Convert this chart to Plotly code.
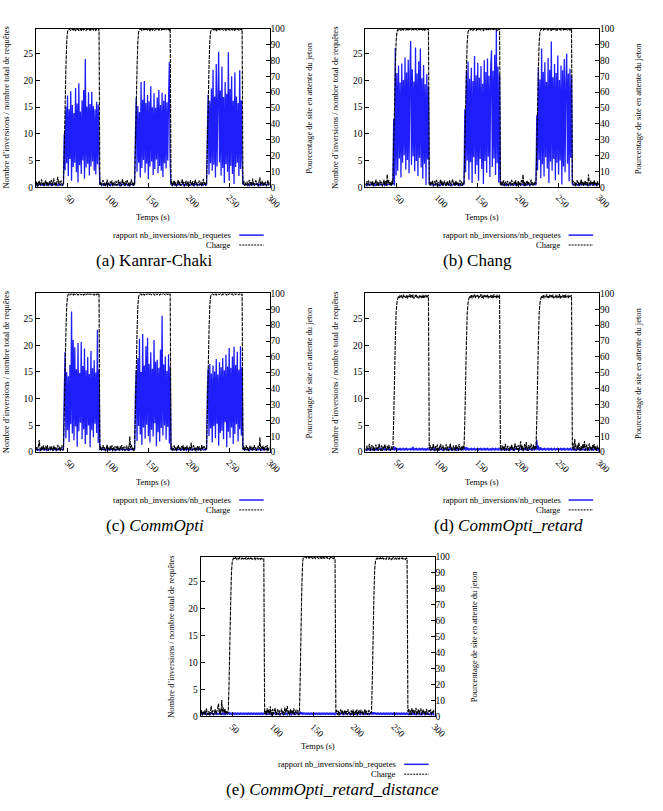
import plotly.graph_objects as go

# ---------------- data ----------------
TIME = list(range(11, 301))            # seconds, 1 sample per second
X_RANGE = [11, 300]
X_TICKS = [50, 100, 150, 200, 250, 300]
Y_LEFT_TICKS = [0, 5, 10, 15, 20, 25]
Y_LEFT_RANGE = [0, 29.7]
Y_RIGHT_TICKS = [0, 10, 20, 30, 40, 50, 60, 70, 80, 90, 100]
Y_RIGHT_RANGE = [0, 100]

LEFT_TITLE = "Nombre d’inversions / nombre total de requêtes"
RIGHT_TITLE = "Pourcentage de site en attente du jeton"
X_TITLE = "Temps (s)"
SERIES_NAMES = ["rapport nb_inversions/nb_requetes", "Charge"]
CAPTIONS = ["(a) Kanrar-Chaki", "(b) Chang", "(c) <i>CommOpti</i>",
            "(d) <i>CommOpti_retard</i>", "(e) <i>CommOpti_retard_distance</i>"]

ratio_a = [
    0.5,0.3,0.6,0.4,0.5,0.7,0.3,0.5,0.4,0.6,
    0.4,0.6,0.5,0.3,0.7,0.5,0.4,0.6,0.5,0.3,
    0.6,0.4,0.5,0.7,0.4,0.5,0.6,0.3,0.5,0.4,
    0.5,0.6,0.4,0.5,0.6,10.0,3.2,15.1,4.5,17.2,
    2.1,14.6,5.3,18.0,1.2,15.4,3.8,13.9,4.6,18.6,
    2.8,15.7,0.9,19.5,4.1,14.2,2.5,16.3,5.0,18.2,
    1.6,24.0,3.7,15.1,4.4,17.8,2.2,15.6,3.9,17.9,
    4.8,15.2,3.1,14.6,2.4,16.0,4.3,15.5,5.2,0.6,
    0.5,0.4,0.6,0.5,0.3,0.6,0.4,0.5,0.7,0.4,
    0.5,0.6,0.3,0.5,0.4,0.6,0.5,0.4,0.6,0.5,
    0.4,0.5,0.6,0.3,0.5,0.7,0.4,0.5,0.6,0.4,
    0.5,0.4,0.6,0.5,0.3,0.5,0.6,0.4,0.5,0.6,
    0.4,0.5,0.6,9.5,16.8,2.9,15.2,4.6,14.1,1.8,
    19.7,3.6,16.4,5.1,19.9,2.7,15.8,4.4,17.3,1.5,
    16.1,3.9,18.9,4.8,15.0,2.3,17.6,3.4,14.9,5.2,
    16.8,2.6,18.2,4.0,15.4,3.1,17.7,1.9,16.2,4.5,
    17.4,3.5,15.9,5.0,16.6,23.4,4.2,0.6,0.4,0.5,
    0.5,0.6,0.4,0.5,0.3,0.6,0.5,0.4,0.6,0.5,
    0.4,0.6,0.5,0.3,0.5,0.6,0.4,0.5,0.7,0.4,
    0.5,0.4,0.6,0.5,0.4,0.6,0.3,0.5,0.6,0.4,
    0.6,0.5,0.4,0.5,0.6,0.3,0.5,0.4,0.6,0.5,
    0.4,0.5,9.8,17.3,2.4,16.2,4.5,18.5,3.1,22.0,
    4.2,17.0,1.8,23.1,3.9,16.4,25.4,4.7,18.1,2.2,
    22.6,3.6,16.9,0.8,19.7,4.3,17.5,2.9,25.3,1.2,
    18.4,4.0,20.8,2.5,16.2,0.6,21.5,3.8,17.0,4.6,
    15.8,2.1,21.9,3.4,16.3,4.9,0.5,0.6,0.4,0.5,
    0.5,0.4,0.6,0.5,0.3,0.6,0.5,0.4,0.6,0.5,
    0.4,0.6,0.5,0.7,0.4,0.5,0.6,0.3,0.5,0.4,
    0.6,0.5,0.4,0.5,0.6,0.4,0.5,0.6,0.5,0.4,
]
charge_a = [
    1.2,3.5,0.4,2.8,4.1,0.9,2.2,5.0,1.5,3.1,
    0.6,2.7,4.4,1.1,3.3,0.5,2.5,3.9,1.8,4.6,
    0.8,3.2,5.6,1.4,2.9,0.7,4.0,6.5,2.0,3.6,
    1.0,4.3,2.4,0.9,2.0,25,50,75,92,98,
    99.2,100,99.5,98.8,100,99.6,99.1,100,99.4,98.9,
    100,99.3,99.8,98.7,100,99.5,99.0,100,99.6,99.2,
    99.8,100,98.9,99.5,100,99.3,99.7,98.8,100,99.4,
    99.9,99.2,100,99.5,98.9,100,99.6,99.1,100,1.5,
    3.4,0.7,2.6,4.5,1.3,3.0,0.5,2.2,4.8,1.6,
    2.9,0.8,3.7,1.9,4.2,0.6,2.4,3.3,1.1,4.0,
    0.9,2.6,4.7,1.4,3.5,0.5,2.1,5.2,1.7,3.0,
    0.7,3.8,2.3,4.4,1.2,3.1,0.6,2.7,4.9,1.5,
    3.3,0.8,2.0,25,50,75,92,98,99.3,100,
    99.5,98.9,100,99.4,99.8,99.0,100,99.6,99.2,100,
    99.4,98.8,100,99.6,99.1,100,99.5,99.0,99.8,100,
    99.3,99.7,98.9,100,99.5,99.2,100,99.6,98.9,99.8,
    100,99.4,99.1,100,99.6,99.0,99.9,1.8,3.9,0.7,
    2.5,4.3,1.1,3.2,0.6,2.8,4.6,1.4,3.6,0.9,
    2.2,5.1,1.6,3.4,0.5,2.9,4.1,1.0,3.7,2.0,
    0.8,4.4,2.6,1.2,3.9,0.6,2.3,4.8,1.5,3.1,
    0.7,2.7,4.2,1.3,3.5,0.9,2.4,5.3,1.7,3.0,
    1.1,2.0,25,50,75,92,98,99.4,100,99.6,
    99.1,100,99.5,98.8,99.9,99.3,100,99.6,99.0,99.8,
    100,99.4,99.1,100,99.6,98.9,99.8,100,99.3,99.7,
    99.0,100,99.5,99.2,100,99.6,98.8,99.9,99.4,100,
    99.5,99.1,100,99.7,99.2,99.9,2.1,4.0,0.8,2.9,
    1.4,3.6,0.6,2.5,4.7,1.2,3.3,0.9,5.5,2.0,
    0.7,3.1,4.4,1.6,2.7,0.5,3.8,6.2,1.3,2.4,
    4.1,0.9,2.8,1.5,3.6,0.6,2.2,4.5,1.1,3.0,
]

ratio_b = [
    0.4,0.6,0.5,0.3,0.6,0.5,0.4,0.7,0.5,0.4,
    0.6,0.5,0.3,0.5,0.6,0.4,0.5,0.6,0.4,0.5,
    0.5,0.4,0.6,0.5,0.3,0.6,0.5,0.4,0.6,0.5,
    0.5,0.6,0.4,0.5,0.6,12.8,0.3,26.1,2.2,21.4,
    3.1,22.8,5.4,19.6,1.8,23.2,4.6,20.1,6.0,24.3,
    3.3,21.5,5.1,23.9,2.6,20.7,27.4,4.2,22.1,5.8,
    19.8,3.0,26.2,4.9,21.3,2.1,23.6,5.5,26.0,3.7,
    20.4,1.6,22.9,4.4,19.3,0.4,21.2,5.2,18.9,0.5,
    0.6,0.4,0.5,0.6,0.3,0.5,0.4,0.6,0.5,0.4,
    0.5,0.6,0.4,0.3,0.6,0.5,0.4,0.5,0.6,0.5,
    0.4,0.5,0.6,0.4,0.5,0.3,0.6,0.5,0.4,0.6,
    0.5,0.4,0.5,0.6,0.4,0.5,0.6,0.3,0.5,0.4,
    0.4,0.6,0.5,14.6,2.8,21.7,5.0,23.5,1.4,20.3,
    4.7,22.4,0.8,19.9,5.6,24.6,2.5,21.0,4.1,23.3,
    1.2,20.5,5.3,22.7,3.4,19.4,0.6,23.8,4.9,21.6,
    2.7,24.1,5.7,20.9,1.9,22.3,25.6,3.8,21.8,5.4,
    24.8,2.3,29.5,4.5,22.6,0.9,21.1,0.5,0.6,0.4,
    0.5,0.4,0.6,0.5,0.3,0.6,0.4,0.5,0.6,0.5,
    0.4,0.5,0.6,0.4,0.5,0.7,0.3,0.5,0.4,0.6,
    0.5,0.6,0.4,0.5,0.6,0.4,0.5,0.3,0.6,0.5,
    0.4,0.5,0.6,0.5,0.4,0.6,0.5,0.4,0.5,0.6,
    0.5,0.4,13.5,3.2,22.5,5.1,20.2,1.7,26.0,4.3,
    21.6,2.0,23.4,5.6,19.7,3.5,24.2,0.8,22.0,4.8,
    27.3,3.1,20.6,5.3,23.1,1.3,21.4,4.6,24.7,2.4,
    20.1,5.0,22.8,0.5,21.9,3.9,24.0,2.8,19.6,25.0,
    4.4,21.3,1.1,22.2,5.5,21.0,0.6,0.4,0.5,0.6,
    0.5,0.6,0.4,0.5,0.3,0.6,0.5,0.4,0.6,0.5,
    0.4,0.5,0.6,0.4,0.5,0.6,0.3,0.5,0.4,0.6,
    0.5,0.4,0.6,0.5,0.4,0.5,0.6,0.4,0.5,0.6,
]
charge_b = [
    2.3,0.7,3.9,1.5,4.4,0.9,2.6,3.5,1.2,4.0,
    0.5,3.1,2.2,4.8,1.0,3.6,0.8,2.9,4.3,1.7,
    3.4,0.6,2.5,4.6,1.3,3.8,0.9,8.2,2.1,4.5,
    1.6,3.0,0.8,4.1,2.0,25,50,75,92,98,
    99.6,99.0,100,99.3,98.9,100,99.5,99.2,100,99.7,
    99.1,100,99.4,98.8,99.9,99.5,100,99.2,99.6,100,
    99.3,98.9,100,99.6,99.1,100,99.4,99.8,98.9,100,
    99.5,99.2,100,99.0,99.7,100,99.3,99.6,100,2.4,
    0.8,3.5,1.9,4.2,0.6,2.7,3.9,1.1,4.6,2.0,
    3.2,0.5,2.4,4.9,1.4,3.7,0.9,2.8,4.1,1.6,
    0.7,3.9,2.2,1.0,4.5,2.6,0.6,3.4,5.0,1.8,
    2.9,0.9,4.3,1.5,3.1,0.7,2.5,4.7,1.2,3.6,
    0.8,2.4,2.0,25,50,75,92,98,99.4,100,
    99.2,99.7,100,99.0,99.5,100,99.3,98.9,100,99.6,
    99.1,100,99.5,99.2,99.8,100,98.9,99.4,100,99.6,
    99.3,100,99.0,99.7,100,99.4,99.1,100,99.5,99.8,
    99.2,100,99.6,98.9,100,99.4,99.9,2.6,0.9,3.8,
    1.5,4.4,0.7,2.9,3.6,1.2,4.1,0.6,2.3,3.3,
    1.0,4.6,2.1,0.8,3.5,1.9,4.3,0.5,2.7,3.9,
    1.3,3.0,0.9,4.5,2.4,8.0,1.1,3.6,0.7,2.8,
    4.2,1.6,3.3,0.6,2.5,4.8,1.4,3.1,0.9,2.2,
    3.7,2.0,25,50,75,92,98,99.3,100,99.6,
    99.0,100,99.5,99.2,99.8,100,99.1,99.6,100,99.3,
    98.9,100,99.5,99.7,100,99.2,99.6,98.8,100,99.4,
    99.7,100,99.1,99.5,100,99.3,99.8,98.9,100,99.5,
    99.2,100,99.6,99.0,99.8,99.9,2.3,4.1,1.0,3.2,
    0.6,2.8,4.5,1.7,3.4,0.8,2.2,4.9,1.3,3.7,
    0.9,2.5,4.0,1.5,3.3,0.7,8.1,2.6,1.1,4.2,
    2.0,3.6,0.8,4.4,1.6,2.9,0.6,3.8,1.9,2.7,
]

ratio_c = [
    0.5,0.4,0.6,0.5,0.3,0.5,0.6,0.4,0.5,0.6,
    0.4,0.5,0.6,0.3,0.5,0.4,0.6,0.5,0.4,0.6,
    0.5,0.6,0.4,0.5,0.6,0.3,0.5,0.4,0.6,0.5,
    0.4,0.6,0.5,0.4,0.5,11.4,18.8,2.6,15.0,4.1,
    14.2,1.9,16.3,5.2,26.3,3.5,21.0,2.2,19.6,4.8,
    15.5,1.0,20.4,3.9,14.8,5.5,20.6,2.4,16.1,4.3,
    19.4,1.5,15.3,3.2,17.8,5.0,14.6,0.9,18.9,4.1,
    15.7,2.8,17.2,5.3,14.9,3.6,22.9,1.7,15.4,0.5,
    0.6,0.4,0.5,0.6,0.4,0.5,0.3,0.6,0.5,0.4,
    0.5,0.6,0.4,0.5,0.6,0.4,0.5,0.6,0.3,0.5,
    0.4,0.5,0.6,0.5,0.4,0.6,0.5,0.4,0.5,0.6,
    0.5,0.4,0.6,0.5,0.3,0.6,0.4,0.5,0.6,0.4,
    0.5,0.6,0.4,10.8,15.3,2.1,17.6,4.9,21.2,3.3,
    15.0,1.4,22.1,4.6,16.2,2.5,19.8,5.1,21.4,3.0,
    16.5,1.8,18.7,4.2,15.6,2.9,21.0,5.4,16.9,1.1,
    17.3,3.7,15.8,2.0,19.2,4.5,25.5,3.1,16.4,5.0,
    17.9,2.3,15.2,4.7,18.3,1.6,16.0,0.5,0.4,0.6,
    0.5,0.4,0.6,0.5,0.3,0.6,0.5,0.4,0.6,0.5,
    0.4,0.6,0.5,0.4,0.5,0.6,0.3,0.5,0.6,0.4,
    0.5,0.4,0.6,0.5,0.4,0.6,0.5,0.3,0.5,0.6,
    0.4,0.5,0.6,0.4,0.5,0.6,0.5,0.4,0.6,0.5,
    0.4,0.6,11.0,15.6,3.0,16.5,4.4,14.7,1.8,16.2,
    4.9,15.1,2.6,17.4,5.3,14.5,1.2,16.8,3.6,15.9,
    4.0,17.6,2.4,15.3,5.6,18.2,0.9,16.0,3.8,19.5,
    2.7,15.8,4.6,17.9,1.5,19.7,3.4,16.3,5.2,18.8,
    2.0,15.4,4.3,19.8,3.1,15.9,0.5,0.6,0.4,0.5,
    0.5,0.4,0.6,0.5,0.3,0.6,0.5,0.4,0.6,0.5,
    0.6,0.5,0.4,0.5,0.6,0.4,0.5,0.6,0.3,0.5,
    0.4,0.6,0.5,0.4,0.5,0.6,0.4,0.5,0.6,0.5,
]
charge_c = [
    1.5,3.2,0.8,4.0,7.6,2.1,0.6,3.5,1.9,4.3,
    0.9,2.6,3.9,1.2,4.5,0.7,2.4,3.3,1.0,3.8,
    2.2,0.5,4.1,1.6,3.0,0.8,2.7,4.6,1.3,3.5,
    0.6,2.9,4.2,1.1,2.0,25,50,75,92,98,
    99.4,100,99.1,99.7,100,99.3,98.9,100,99.5,99.2,
    100,99.6,99.0,99.8,100,99.4,99.1,100,99.6,98.9,
    99.5,100,99.2,99.7,100,99.0,99.6,100,99.3,99.8,
    100,99.4,98.9,100,99.6,99.2,100,99.5,99.9,1.2,
    3.6,0.8,2.5,4.4,1.4,3.1,0.6,2.2,4.7,1.7,
    2.8,0.9,3.9,1.5,4.3,0.5,2.6,3.4,1.0,3.8,
    1.3,4.0,2.1,0.7,3.6,1.8,4.5,0.9,2.9,3.3,
    0.6,2.4,4.1,1.2,3.5,0.8,10.0,2.3,4.6,1.4,
    3.0,0.7,2.0,25,50,75,92,98,99.2,100,
    99.6,99.1,100,99.4,98.9,100,99.7,99.3,100,99.5,
    99.0,100,99.6,99.2,99.8,100,99.4,98.9,100,99.6,
    99.3,100,99.7,99.0,100,99.5,99.2,99.8,100,99.4,
    99.1,100,99.6,99.3,100,99.5,99.9,1.6,3.7,0.6,
    2.4,4.2,1.1,3.3,0.8,2.7,4.5,1.5,3.0,0.7,
    3.8,1.9,4.4,0.6,2.6,3.6,1.2,4.1,2.0,0.9,
    3.4,1.4,6.0,0.8,2.8,4.3,1.6,3.2,0.5,2.5,
    4.0,1.0,3.5,2.2,0.7,4.6,1.8,2.9,3.7,1.1,
    2.6,2.0,25,50,75,92,98,99.3,100,99.5,
    99.1,100,99.6,99.0,99.8,100,99.4,99.2,100,99.6,
    99.0,100,99.5,99.3,100,99.7,98.9,100,99.4,99.8,
    100,99.2,99.6,100,99.0,99.5,100,99.3,99.7,100,
    99.4,99.1,100,99.6,99.2,99.9,1.9,3.8,0.7,2.6,
    4.3,1.3,3.1,0.6,2.4,4.0,1.5,3.5,0.9,2.7,
    4.4,1.2,3.0,0.8,2.3,3.9,1.6,9.4,0.7,3.4,
    1.8,4.1,0.9,2.8,3.6,1.1,4.5,0.6,2.2,3.1,
]

ratio_d = [
    0.5,0.3,0.7,0.4,0.6,0.3,0.8,0.5,0.4,0.6,
    0.3,0.7,0.5,0.4,0.8,0.3,0.6,0.5,0.7,0.4,
    0.6,0.3,0.7,0.5,0.4,0.8,0.3,0.6,0.5,0.4,
    0.7,0.3,0.5,0.6,0.4,1.1,0.3,0.9,0.4,0.8,
    0.3,0.7,0.4,0.8,0.3,0.6,0.5,0.8,0.3,0.7,
    0.4,0.8,0.3,0.6,0.5,0.7,0.3,0.8,0.4,1.0,
    0.3,0.7,0.5,0.8,0.3,0.6,0.4,0.8,0.3,0.7,
    0.5,0.8,0.3,0.6,0.4,0.7,0.3,0.8,0.5,0.4,
    0.6,0.3,0.7,0.5,0.4,0.8,0.3,0.6,0.5,0.4,
    0.7,0.3,0.6,0.5,0.8,0.4,0.3,0.7,0.5,0.6,
    0.4,0.7,0.3,0.6,0.5,0.8,0.4,0.3,0.6,0.5,
    0.7,0.4,0.5,0.3,0.8,0.6,0.4,0.5,0.7,0.3,
    0.6,0.4,0.5,1.0,0.3,0.9,0.4,0.8,0.3,0.7,
    0.4,0.8,0.3,0.7,0.5,0.8,0.3,0.6,0.4,0.8,
    0.3,0.7,0.5,0.8,0.3,0.6,0.4,0.8,0.3,0.7,
    0.5,0.8,0.3,0.6,0.4,0.7,0.3,0.8,0.5,0.7,
    0.3,0.8,0.4,0.6,0.3,0.8,0.5,0.4,0.6,0.3,
    0.7,0.5,0.4,0.8,0.3,0.6,0.5,0.4,0.7,0.3,
    0.6,0.5,0.8,0.4,0.3,0.7,0.5,0.6,0.4,0.8,
    0.3,0.6,0.5,0.7,0.4,0.3,0.8,0.5,0.6,0.4,
    0.7,0.3,0.5,0.6,0.4,0.8,0.3,0.5,0.7,0.4,
    0.6,0.5,2.3,0.4,1.2,0.3,0.9,0.4,0.8,0.3,
    0.7,0.4,0.8,0.3,0.6,0.5,0.8,0.3,0.7,0.4,
    0.8,0.3,0.6,0.5,0.8,0.3,0.7,0.4,0.8,0.3,
    0.6,0.5,0.8,0.3,0.7,0.4,0.8,0.3,0.6,0.5,
    0.8,0.3,0.7,0.4,0.8,0.3,0.5,0.6,0.4,0.7,
    0.3,0.5,0.6,0.4,0.8,0.3,0.5,0.7,0.4,0.6,
    0.5,0.3,0.7,0.4,0.6,0.5,0.8,0.3,0.5,0.6,
    0.4,0.7,0.3,0.5,0.6,0.4,0.8,0.5,0.3,0.6,
]
charge_d = [
    2.4,0.8,4.1,1.6,3.3,5.2,0.7,2.9,4.5,1.3,
    3.6,0.6,2.2,4.8,1.9,3.1,0.9,5.5,2.5,1.1,
    4.2,0.7,3.4,1.8,5.0,2.6,0.8,3.9,1.4,4.6,
    2.1,0.9,3.7,1.5,2.0,20,45,70,88,94,
    96.5,98.2,97.1,99.0,97.6,98.8,96.9,99.3,97.8,98.5,
    97.2,99.1,96.8,98.4,97.7,99.5,97.0,98.9,97.4,99.2,
    96.7,98.6,97.9,99.4,97.3,98.1,96.9,99.0,97.5,98.7,
    97.1,99.3,96.8,98.5,97.6,99.1,97.2,98.3,99.0,1.9,
    4.4,0.8,3.2,1.5,5.3,2.4,0.6,3.8,1.2,4.7,
    2.0,0.9,3.5,5.1,1.6,2.8,4.3,0.7,3.0,1.8,
    4.9,1.1,3.6,0.6,2.5,5.4,1.4,3.1,0.9,4.2,
    2.3,0.7,4.6,1.7,3.3,0.8,5.0,2.2,1.0,3.9,
    1.4,4.1,2.0,20,45,70,88,94,96.6,98.4,
    97.3,99.2,96.9,98.7,97.5,99.4,97.0,98.6,97.8,99.1,
    96.8,98.3,97.6,99.5,97.1,98.9,96.7,99.0,97.4,98.5,
    97.9,99.3,96.9,98.2,97.5,99.1,97.2,98.8,96.8,99.4,
    97.6,98.4,97.0,99.2,97.3,98.7,98.9,2.6,0.9,4.3,
    1.5,3.6,0.7,5.2,2.3,1.0,4.0,2.8,0.6,3.4,
    1.9,4.8,1.2,3.0,0.8,5.6,2.1,3.7,1.4,4.5,
    0.9,3.3,6.8,1.6,4.2,0.7,2.7,5.0,1.3,6.3,
    2.5,0.8,4.4,1.8,3.6,5.3,1.0,2.9,4.7,1.5,
    3.8,2.0,20,45,70,88,94,96.7,98.5,97.2,
    99.1,96.9,98.6,97.5,99.4,97.1,98.3,96.8,99.0,97.7,
    98.8,97.2,99.3,96.9,98.4,97.6,99.2,97.0,98.7,97.4,
    99.5,96.8,98.1,97.8,99.1,97.3,98.9,96.9,99.3,97.5,
    98.6,97.1,99.0,97.7,98.4,98.9,2.2,5.4,1.1,8.3,
    3.0,0.8,4.6,1.7,6.1,2.4,0.7,3.9,1.4,5.2,
    2.1,7.0,1.0,3.5,4.8,0.6,2.7,5.5,1.8,3.2,
    0.9,4.4,2.3,5.0,1.2,3.7,0.8,4.1,2.6,1.5,
]

ratio_e = [
    0.4,0.6,0.3,0.5,0.7,0.4,0.5,0.3,0.6,0.5,
    0.4,0.7,0.3,0.5,0.6,0.4,0.3,0.6,0.5,0.4,
    0.7,0.3,0.5,0.6,0.4,0.5,0.3,0.7,0.4,0.6,
    0.3,0.5,0.6,0.4,0.5,0.8,0.3,0.7,0.4,0.6,
    0.3,0.7,0.4,0.6,0.3,0.7,0.4,0.6,0.3,0.7,
    0.4,0.6,0.3,0.7,0.4,0.6,0.3,0.7,0.4,0.6,
    0.3,0.7,0.4,0.6,0.3,0.7,0.4,0.6,0.3,0.7,
    0.4,0.6,0.3,0.7,0.4,0.6,0.3,0.7,0.4,0.5,
    0.6,0.4,0.5,0.3,0.7,0.5,0.4,0.6,0.3,0.5,
    0.4,0.6,0.5,0.3,0.7,0.4,0.5,0.6,0.3,0.5,
    0.6,0.4,0.3,0.7,0.5,0.4,0.6,0.3,0.5,0.7,
    0.4,0.5,0.3,0.6,0.5,0.4,0.7,0.3,0.5,0.6,
    0.4,0.5,0.3,0.9,0.4,0.8,0.3,0.7,0.4,0.7,
    0.3,0.7,0.4,0.6,0.3,0.7,0.4,0.6,0.3,0.7,
    0.4,0.6,0.3,0.7,0.4,0.6,0.3,0.7,0.4,0.6,
    0.3,0.7,0.4,0.6,0.3,0.7,0.4,0.6,0.3,0.7,
    0.4,0.6,0.3,0.7,0.4,0.6,0.3,0.5,0.6,0.4,
    0.5,0.3,0.7,0.4,0.6,0.5,0.3,0.6,0.4,0.5,
    0.7,0.3,0.5,0.6,0.4,0.5,0.3,0.7,0.4,0.6,
    0.5,0.4,0.3,0.6,0.5,0.7,0.4,0.3,0.6,0.5,
    0.4,0.6,0.5,0.3,0.7,0.4,0.5,0.6,0.3,0.5,
    0.6,0.4,0.8,0.3,0.8,0.4,0.7,0.3,0.7,0.4,
    0.6,0.3,0.7,0.4,0.6,0.3,0.7,0.4,0.6,0.3,
    0.7,0.4,0.6,0.3,0.7,0.4,0.6,0.3,0.7,0.4,
    0.6,0.3,0.7,0.4,0.6,0.3,0.7,0.4,0.6,0.3,
    0.7,0.4,0.6,0.3,0.7,0.4,0.5,0.3,0.6,0.4,
    0.5,0.7,0.3,0.6,0.4,0.5,0.3,0.6,0.5,0.4,
    0.6,0.3,0.5,0.7,0.4,0.5,0.6,0.3,0.5,0.4,
    0.7,0.4,0.5,0.3,0.6,0.5,0.4,0.6,0.3,0.5,
]
charge_e = [
    1.8,4.0,0.7,2.9,1.3,3.6,0.9,5.1,2.2,1.0,
    3.4,0.6,2.7,6.6,1.5,3.9,0.8,2.4,4.6,1.2,
    3.1,5.2,8.1,1.4,4.3,0.9,10.2,2.6,5.5,1.7,
    4.8,1.1,3.5,2.3,2.0,20,45,70,90,97,
    98.6,99.1,98.3,99.4,98.8,98.2,99.0,98.5,99.3,98.7,
    98.4,99.2,98.9,98.1,99.0,98.6,99.3,98.3,98.8,99.1,
    98.5,98.2,99.2,98.7,98.4,99.0,98.6,99.3,98.2,98.9,
    99.1,98.4,98.7,99.2,98.3,98.9,98.5,99.0,98.6,1.6,
    3.7,0.8,5.0,2.1,4.2,1.3,6.4,0.7,3.3,4.6,
    1.5,3.0,5.3,0.9,2.6,4.4,1.1,3.8,0.6,2.8,
    4.9,1.4,3.2,0.8,5.6,2.3,4.0,6.5,1.2,3.5,
    0.7,4.5,2.0,3.7,1.3,5.1,0.9,2.5,4.2,1.6,
    3.9,0.8,2.0,25,55,82,97,99.8,100,99.6,
    99.9,99.3,100,99.5,99.0,99.8,99.4,100,98.9,99.6,
    99.2,99.7,98.8,99.5,99.9,99.1,98.7,99.6,99.3,98.9,
    99.5,98.6,99.8,99.0,98.7,99.4,99.7,98.9,99.2,98.5,
    99.3,99.6,98.8,99.1,98.7,99.4,99.0,2.2,4.1,1.0,
    3.5,0.7,2.8,4.3,1.6,3.9,0.9,2.4,4.0,1.2,
    3.3,0.8,4.4,1.9,2.7,0.6,3.8,1.4,4.2,2.5,
    0.9,3.6,1.7,4.3,0.7,2.9,3.9,1.2,4.1,2.0,
    3.4,0.8,2.6,4.4,1.5,3.7,0.9,2.3,4.0,1.3,
    3.1,2.0,22,48,75,92,97.5,98.6,99.2,98.4,
    99.0,98.7,99.4,98.2,98.9,99.3,98.5,99.1,98.6,98.3,
    99.2,98.8,98.4,99.3,98.6,99.0,98.2,98.9,99.4,98.5,
    98.7,99.1,98.3,99.0,98.8,98.4,99.2,98.6,98.9,99.3,
    98.5,99.0,98.7,98.3,99.1,98.8,2.4,4.6,1.1,3.8,
    0.8,5.2,2.3,4.0,1.5,3.4,5.4,0.9,2.7,4.5,
    1.3,3.6,5.0,0.7,2.9,4.3,1.6,3.1,0.8,4.8,
    2.2,1.0,3.9,2.6,4.4,0.7,3.2,1.8,4.1,2.5,
]

RATIOS = [ratio_a, ratio_b, ratio_c, ratio_d, ratio_e]
CHARGES = [charge_a, charge_b, charge_c, charge_d, charge_e]
for s in RATIOS + CHARGES:
    assert len(s) == len(TIME), len(s)

# ---------------- layout (pixel boxes of the plot frames) ----------------
W, H = 663, 811
PANELS = [  # x0, x1, y0(top), y1(bottom), caption centre x
    (36.7, 275.0, 24.0, 184.5, 158),
    (372.7, 611.0, 24.0, 184.5, 487),
    (36.7, 275.0, 292.0, 452.7, 158),
    (372.7, 611.0, 292.0, 452.7, 519),
    (204.7, 443.3, 558.5, 720.3, 339),
]

def px(x):
    return x / W

def py(y):
    return 1 - y / H

BLUE = "rgb(30,30,250)"
FONT = "Liberation Serif, Times New Roman, serif"
DASH = "4px,1px"

fig = go.Figure()
annotations = []
shapes = []
layout = {}

for i, (x0, x1, y0, y1, cx) in enumerate(PANELS):
    xn = "" if i == 0 else str(i + 1)
    yl = str(2 * i + 1) if i > 0 else ""
    yr = str(2 * i + 2)
    xref = "x" + xn
    ylref = "y" + yl
    yrref = "y" + yr

    fig.add_trace(go.Scatter(x=TIME, y=RATIOS[i], mode="lines",
                             line=dict(color=BLUE, width=1.3, simplify=False),
                             xaxis=xref, yaxis=ylref, showlegend=False,
                             name=SERIES_NAMES[0]))
    fig.add_trace(go.Scatter(x=TIME, y=CHARGES[i], mode="lines",
                             line=dict(color="black", width=1.1, dash=DASH, simplify=False),
                             xaxis=xref, yaxis=yrref, showlegend=False,
                             name=SERIES_NAMES[1]))

    common = dict(showgrid=False, zeroline=False, showline=True, linecolor="black",
                  linewidth=1, ticks="inside", ticklen=4, tickcolor="black",
                  tickfont=dict(family=FONT, size=9.5, color="black"))
    layout["xaxis" + xn] = dict(common, domain=[px(x0), px(x1)], anchor=ylref,
                                range=X_RANGE, tickvals=X_TICKS, tickangle=45,
                                mirror=True)
    layout["yaxis" + yl] = dict(common, domain=[py(y1), py(y0)], anchor=xref,
                                range=Y_LEFT_RANGE, tickvals=Y_LEFT_TICKS, mirror=True)
    layout["yaxis" + yr] = dict(common, domain=[py(y1), py(y0)], anchor=xref,
                                overlaying=ylref, side="right", range=Y_RIGHT_RANGE,
                                tickvals=Y_RIGHT_TICKS, showline=False)

    ymid = (y0 + y1) / 2
    tf = dict(family=FONT, size=8.5, color="black")
    annotations.append(dict(x=px(x0 - 31), y=py(ymid), xref="paper", yref="paper",
                            text=LEFT_TITLE, textangle=-90, showarrow=False, font=tf,
                            xanchor="center", yanchor="middle"))
    annotations.append(dict(x=px(x1 + 40), y=py(ymid), xref="paper", yref="paper",
                            text=RIGHT_TITLE, textangle=-90, showarrow=False, font=tf,
                            xanchor="center", yanchor="middle"))
    annotations.append(dict(x=px((x0 + x1) / 2), y=py(y1 + 30), xref="paper", yref="paper",
                            text=X_TITLE, showarrow=False, font=tf,
                            xanchor="center", yanchor="middle"))
    for k, (name, color, dash, width) in enumerate([
            (SERIES_NAMES[0], BLUE, "solid", 1.5),
            (SERIES_NAMES[1], "black", "2px,1px", 1)]):
        yy = y1 + 48.5 + 10 * k
        annotations.append(dict(x=px(x1 - 37), y=py(yy), xref="paper", yref="paper",
                                text=name, showarrow=False, font=tf,
                                xanchor="right", yanchor="middle"))
        shapes.append(dict(type="line", xref="paper", yref="paper",
                           x0=px(x1 - 31), x1=px(x1 - 6), y0=py(yy), y1=py(yy),
                           line=dict(color=color, width=width, dash=dash)))
    annotations.append(dict(x=px(cx), y=py(y1 + 74), xref="paper", yref="paper",
                            text=CAPTIONS[i], showarrow=False,
                            font=dict(family=FONT, size=17, color="black"),
                            xanchor="center", yanchor="middle"))

fig.update_layout(width=W, height=H, margin=dict(l=0, r=0, t=0, b=0),
                  paper_bgcolor="white", plot_bgcolor="white",
                  annotations=annotations, shapes=shapes, showlegend=False,
                  **layout)

fig.write_html("out.html")
